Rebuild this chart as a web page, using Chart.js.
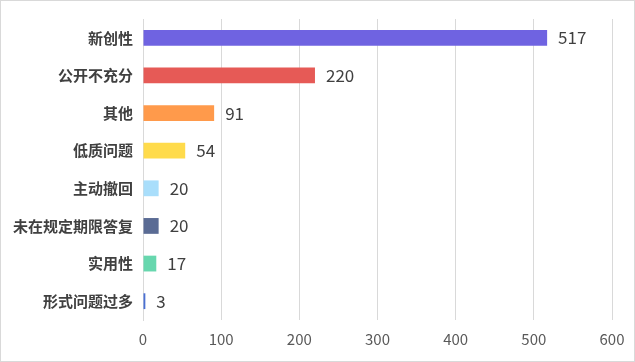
<!DOCTYPE html>
<html>
<head>
<meta charset="utf-8">
<script src="https://cdn.jsdelivr.net/npm/chart.js@4/dist/chart.umd.min.js"></script>
<style>
  html, body { margin: 0; padding: 0; background: #fff; }
  canvas { display: block; }
</style>
</head>
<body>
<canvas id="chart" width="635" height="362"></canvas>
<script>
const categories = ['新创性', '公开不充分', '其他', '低质问题', '主动撤回', '未在规定期限答复', '实用性', '形式问题过多'];
const counts = [517, 220, 91, 54, 20, 20, 17, 3];
const barColors = ['#6F63E1', '#E65A56', '#FF9A4B', '#FFDB4B', '#A9DEFB', '#5A6B94', '#67D7AE', '#4B70D3'];
const xTicks = [0, 100, 200, 300, 400, 500, 600];

const fontFamily = '"Noto Sans CJK SC", "Microsoft YaHei", sans-serif';

// value labels to the right of each bar + the light frame round the picture
const valueLabels = {
    id: 'valueLabels',
    afterDatasetsDraw(chart) {
        const ctx = chart.ctx;
        const meta = chart.getDatasetMeta(0);
        ctx.save();
        ctx.font = '17px ' + fontFamily;
        ctx.fillStyle = '#404040';
        ctx.textAlign = 'left';
        ctx.textBaseline = 'middle';
        meta.data.forEach((bar, i) => {
            ctx.fillText(String(counts[i]), bar.x + 11, bar.y);
        });
        ctx.restore();
    },
    afterDraw(chart) {
        const ctx = chart.ctx;
        ctx.save();
        ctx.strokeStyle = '#d9d9d9';
        ctx.lineWidth = 1;
        ctx.strokeRect(0.5, 0.5, chart.width - 1, chart.height - 1);
        ctx.restore();
    }
};

new Chart(document.getElementById('chart').getContext('2d'), {
    type: 'bar',
    data: {
        labels: categories,
        datasets: [{
            data: counts,
            backgroundColor: barColors,
            borderWidth: 0,
            barPercentage: 0.42,
            categoryPercentage: 1
        }]
    },
    options: {
        indexAxis: 'y',
        responsive: false,
        animation: false,
        layout: {
            padding: { left: 0, right: 23, top: 19, bottom: 12 }
        },
        plugins: {
            legend: { display: false },
            tooltip: { enabled: false }
        },
        scales: {
            x: {
                min: 0,
                max: 600,
                afterBuildTicks: (scale) => {
                    scale.ticks = xTicks.map(v => ({ value: v }));
                },
                afterFit: (scale) => { scale.height = 30; },
                grid: {
                    color: '#d9d9d9',
                    drawTicks: false
                },
                border: { display: false },
                ticks: {
                    color: '#595959',
                    padding: 10,
                    font: { family: fontFamily, size: 15 }
                }
            },
            y: {
                afterFit: (scale) => { scale.width = 143; },
                grid: { display: false, drawTicks: false },
                border: { display: true, color: '#d9d9d9' },
                ticks: {
                    color: '#404040',
                    padding: 10,
                    font: { family: fontFamily, size: 15, weight: 'bold' }
                }
            }
        }
    },
    plugins: [valueLabels]
});
</script>
</body>
</html>
